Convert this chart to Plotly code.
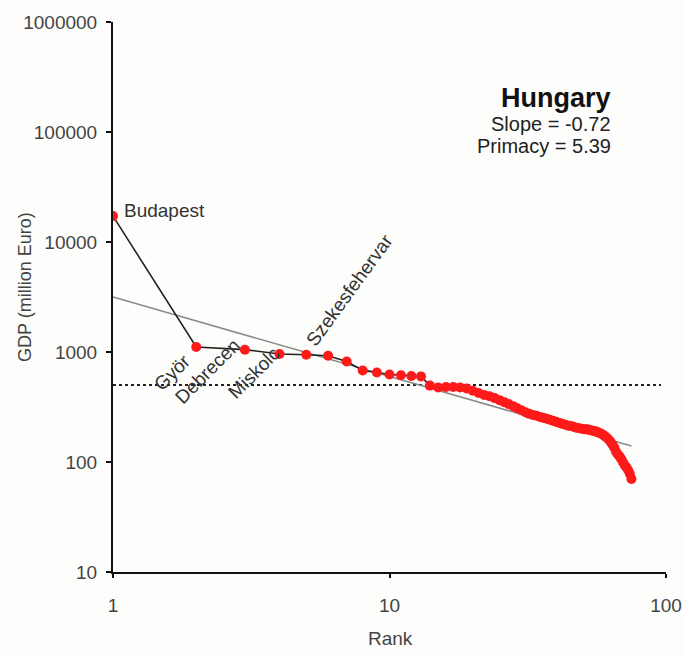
import plotly.graph_objects as go

# ---- data ----
ranks = list(range(1, 76))
gdp = [17200, 1110, 1050, 960, 945, 925, 820, 680, 650, 625,
       615, 605, 600, 495, 475, 481, 481, 476, 466, 445,
       424, 406, 397, 381, 365, 350, 336, 322, 308, 295,
       283, 274, 268, 263, 257, 252, 247, 242, 237, 232,
       228, 223, 219, 215, 213, 210, 206, 204, 202, 200,
       198, 198, 195, 193, 191, 189, 185, 182, 178, 172,
       167, 160, 153, 144, 135, 124, 117, 112, 106, 99,
       93, 89, 84, 78, 70]
trend_x = [1, 75]
trend_y = [3160, 140]
ref_x = [1, 96]
ref_y = [500, 500]
x_ticks = [1, 10, 100]
y_ticks = [10, 100, 1000, 10000, 100000, 1000000]

FONT = "Arial, Liberation Sans, sans-serif"
TXT = "#333333"
L, R, T, B = 113, 17, 22, 85
PW, PH = 683 - L - R, 657 - T - B


def px(xp):
    return (xp - L) / PW


def py(yp):
    return (657 - B - yp) / PH


def lx(xp):
    return 2 * (xp - L) / PW


def ly(yp):
    return 6 - 5 * (yp - T) / PH


fig = go.Figure()
fig.add_trace(go.Scatter(x=ref_x, y=ref_y, mode="lines",
                         line=dict(color="#222222", width=2, dash="dot"),
                         hoverinfo="skip", showlegend=False))
fig.add_trace(go.Scatter(x=trend_x, y=trend_y, mode="lines",
                         line=dict(color="#8a8a8a", width=1.6),
                         showlegend=False))
fig.add_trace(go.Scatter(x=ranks, y=gdp, mode="lines+markers",
                         line=dict(color="#222222", width=1.6),
                         marker=dict(color="#ff1a1a", size=10),
                         showlegend=False))

ann = []
ann.append(dict(x=lx(122), y=ly(210), text="Budapest", showarrow=False,
                xanchor="left", yanchor="middle", font=dict(size=19, color=TXT, family=FONT)))
for txt, xp, yp, ang in [("Györ", 172, 372, -45),
                         ("Debrecen", 207, 371, -45),
                         ("Miskolc", 253, 373, -45),
                         ("Szekesfehervar", 349, 290, -54)]:
    ann.append(dict(x=lx(xp), y=ly(yp), text=txt, showarrow=False, textangle=ang,
                    xanchor="center", yanchor="middle",
                    font=dict(size=19, color=TXT, family=FONT)))
ann.append(dict(x=px(613), y=py(98), xref="paper", yref="paper",
                text="<b>Hungary</b>", showarrow=False, xanchor="right", yanchor="middle",
                font=dict(size=27, color="#111111", family=FONT)))
ann.append(dict(x=px(613), y=py(124), xref="paper", yref="paper",
                text="Slope = -0.72", showarrow=False, xanchor="right", yanchor="middle",
                font=dict(size=20, color="#222222", family=FONT)))
ann.append(dict(x=px(613), y=py(146), xref="paper", yref="paper",
                text="Primacy = 5.39", showarrow=False, xanchor="right", yanchor="middle",
                font=dict(size=20, color="#222222", family=FONT)))
# axis titles
ann.append(dict(x=px(25), y=py(287), xref="paper", yref="paper",
                text="GDP (million Euro)", showarrow=False, textangle=-90,
                xanchor="center", yanchor="middle",
                font=dict(size=18, color="#444444", family=FONT)))
ann.append(dict(x=px(390), y=py(638), xref="paper", yref="paper",
                text="Rank", showarrow=False,
                xanchor="center", yanchor="middle",
                font=dict(size=19, color="#444444", family=FONT)))
# partially visible label of the neighbouring panel at the right edge
ann.append(dict(x=px(691), y=py(290), xref="paper", yref="paper",
                text="GDP (million Euro)", showarrow=False, textangle=-90,
                xanchor="center", yanchor="middle",
                font=dict(size=18, color="#555555", family=FONT)))

fig.update_layout(
    width=683, height=657,
    margin=dict(l=L, r=R, t=T, b=B),
    paper_bgcolor="#fdfdfb", plot_bgcolor="#fdfdfb",
    font=dict(family=FONT, size=19, color=TXT),
    annotations=ann,
)
fig.update_xaxes(type="log", range=[0, 2], tickvals=x_ticks, ticktext=[str(v) for v in x_ticks],
                 showgrid=False, zeroline=False, showline=True, linecolor="#111111", linewidth=2,
                 ticks="outside", ticklen=4, tickcolor="#111111", tickwidth=2,
                 ticklabelstandoff=11, automargin=False, ticklabeloverflow="allow",
                 tickfont=dict(size=19, color="#444444"))
fig.update_yaxes(type="log", range=[1, 6], tickvals=y_ticks, ticktext=[str(v) for v in y_ticks],
                 showgrid=False, zeroline=False, showline=True, linecolor="#111111", linewidth=2,
                 ticks="outside", ticklen=5, tickcolor="#111111", tickwidth=2,
                 ticklabelstandoff=5, automargin=False, ticklabeloverflow="allow",
                 tickfont=dict(size=19, color="#444444"))

fig.write_html("out.html", config={"displayModeBar": False},
               post_script="document.body.style.margin='0';document.body.style.background='#fdfdfb';")
